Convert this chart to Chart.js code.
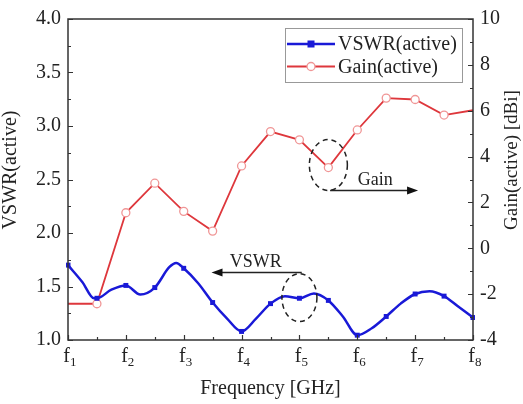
<!DOCTYPE html>
<html>
<head>
<meta charset="utf-8">
<script src="https://cdn.jsdelivr.net/npm/chart.js@4.4.1/dist/chart.umd.min.js"></script>
<style>
  html, body { margin: 0; padding: 0; background: #fff; }
  canvas { display: block; }
</style>
</head>
<body>
<canvas id="c" width="523" height="404"></canvas>
<script>
// ---------- data ----------
const freqLabels = ['1', '2', '3', '4', '5', '6', '7', '8'];   // f1 ... f8 (subscripts)
// VSWR(active): positions along the frequency axis (0 = f1, 7 = f8) and values
const vswrX = [0, 0.25, 0.45, 0.5, 0.75, 1.0, 1.25, 1.5, 1.75, 1.87, 2.0, 2.25, 2.5, 2.75, 3.0, 3.25, 3.5, 3.75, 4.0, 4.25, 4.5, 4.75, 5.0, 5.25, 5.5, 5.75, 6.0, 6.25, 6.5, 6.75, 7.0];
const vswrY = [1.70, 1.54, 1.39, 1.39, 1.47, 1.51, 1.425, 1.49, 1.68, 1.72, 1.67, 1.53, 1.35, 1.20, 1.08, 1.20, 1.34, 1.41, 1.39, 1.435, 1.37, 1.22, 1.045, 1.11, 1.22, 1.34, 1.43, 1.455, 1.41, 1.31, 1.21];
// Gain(active) in dBi at every half step f1, f1.5, f2 ... f8
const gainX = [0, 0.5, 1, 1.5, 2, 2.5, 3, 3.5, 4, 4.5, 5, 5.5, 6, 6.5, 7];
const gainY = [-2.42, -2.42, 1.55, 2.84, 1.61, 0.75, 3.59, 5.09, 4.73, 3.52, 5.16, 6.55, 6.49, 5.81, 6.02];
const vswrTicks = [1.0, 1.5, 2.0, 2.5, 3.0, 3.5, 4.0];
const gainTicks = [-4, -2, 0, 2, 4, 6, 8, 10];

const SERIF = '"Liberation Serif", "Times New Roman", serif';
const TXT = '#222';
const BLUE = 'rgb(25,25,215)';
const RED = 'rgb(222,55,60)';

function isHalf(x) { return Math.abs(x * 2 - Math.round(x * 2)) < 1e-6; }

const decorPlugin = {
  id: 'decor',
  afterDraw(chart) {
    const { ctx, chartArea: a, scales } = chart;
    const x = scales.x, y = scales.y, y2 = scales.y2;
    ctx.save();
    // frame
    ctx.strokeStyle = '#333';
    ctx.lineWidth = 1.5;
    ctx.strokeRect(a.left, a.top, a.right - a.left, a.bottom - a.top);
    ctx.lineWidth = 1.2;
    ctx.beginPath();
    // left ticks (inward)
    for (let v = 1; v <= 4.0001; v += 0.25) {
      const p = Math.round(y.getPixelForValue(v)) + 0.5;
      const len = Math.abs(v * 2 - Math.round(v * 2)) < 1e-6 ? 5 : 3;
      ctx.moveTo(a.left, p); ctx.lineTo(a.left + len, p);
    }
    // right ticks
    for (let g = -4; g <= 10; g += 1) {
      const p = Math.round(y2.getPixelForValue(g)) + 0.5;
      const len = g % 2 === 0 ? 5 : 3;
      ctx.moveTo(a.right, p); ctx.lineTo(a.right - len, p);
    }
    // bottom ticks
    for (let i = 0; i <= 7; i += 0.5) {
      const p = Math.round(x.getPixelForValue(i)) + 0.5;
      const len = Number.isInteger(i) ? 5 : 3;
      ctx.moveTo(p, a.bottom); ctx.lineTo(p, a.bottom - len);
    }
    ctx.stroke();

    // x tick labels f with subscripts
    ctx.fillStyle = TXT;
    ctx.textBaseline = 'alphabetic';
    freqLabels.forEach((s, i) => {
      const px = x.getPixelForValue(i);
      ctx.font = '20px ' + SERIF;
      ctx.textAlign = 'right';
      ctx.fillText('f', px + 2, a.bottom + 22);
      ctx.font = '13px ' + SERIF;
      ctx.textAlign = 'left';
      ctx.fillText(s, px + 2, a.bottom + 26);
    });

    // axis titles
    ctx.font = '20px ' + SERIF;
    ctx.textAlign = 'center';
    ctx.textBaseline = 'middle';
    ctx.fillText('Frequency [GHz]', (a.left + a.right) / 2, 389);
    ctx.save();
    ctx.translate(11, 170);
    ctx.rotate(-Math.PI / 2);
    ctx.fillText('VSWR(active)', 0, 0);
    ctx.restore();
    ctx.save();
    ctx.translate(512, 160);
    ctx.rotate(-Math.PI / 2);
    ctx.font = '19px ' + SERIF;
    ctx.fillText('Gain(active) [dBi]', 0, 0);
    ctx.restore();

    // annotations
    ctx.strokeStyle = '#222';
    ctx.fillStyle = '#111';
    ctx.lineWidth = 1.5;
    ctx.setLineDash([5, 4]);
    // gain ellipse
    ctx.beginPath();
    ctx.ellipse(x.getPixelForValue(4.5), y2.getPixelForValue(3.63), 19, 25.5, 0, 0, Math.PI * 2);
    ctx.stroke();
    // VSWR ellipse
    ctx.beginPath();
    ctx.ellipse(x.getPixelForValue(4.0), y.getPixelForValue(1.396), 17.5, 24, 0, 0, Math.PI * 2);
    ctx.stroke();
    ctx.setLineDash([]);
    function arrow(x1, y1, x2, y2p) {
      const dir = Math.sign(x2 - x1);
      ctx.beginPath();
      ctx.moveTo(x1, y1); ctx.lineTo(x2 - dir * 8, y2p);
      ctx.stroke();
      ctx.beginPath();
      ctx.moveTo(x2, y2p);
      ctx.lineTo(x2 - dir * 11, y2p - 4);
      ctx.lineTo(x2 - dir * 11, y2p + 4);
      ctx.closePath();
      ctx.fill();
    }
    const gy = Math.round(y2.getPixelForValue(2.54)) + 0.5;
    arrow(x.getPixelForValue(4.53), gy, x.getPixelForValue(6.05), gy);
    const vy = Math.round(y.getPixelForValue(1.635)) + 0.5;
    arrow(x.getPixelForValue(4.04), vy, x.getPixelForValue(2.48), vy);
    ctx.fillStyle = TXT;
    ctx.font = '18px ' + SERIF;
    ctx.textAlign = 'center';
    ctx.textBaseline = 'alphabetic';
    ctx.fillText('Gain', x.getPixelForValue(5.31), y2.getPixelForValue(2.75));
    ctx.fillText('VSWR', x.getPixelForValue(3.245), y.getPixelForValue(1.685));

    // legend
    const L = 285, T = 28, R = 462, B = 82;
    ctx.fillStyle = '#fff';
    ctx.fillRect(L, T, R - L, B - T);
    ctx.strokeStyle = '#999';
    ctx.lineWidth = 1;
    ctx.strokeRect(L + 0.5, T + 0.5, R - L, B - T);
    const r1 = 44, r2 = 66.5;
    ctx.lineWidth = 2.5;
    ctx.strokeStyle = BLUE;
    ctx.beginPath(); ctx.moveTo(287, r1); ctx.lineTo(335, r1); ctx.stroke();
    ctx.fillStyle = BLUE;
    ctx.fillRect(311 - 3.5, r1 - 3.5, 7, 7);
    ctx.lineWidth = 1.8;
    ctx.strokeStyle = RED;
    ctx.beginPath(); ctx.moveTo(287, r2); ctx.lineTo(335, r2); ctx.stroke();
    ctx.beginPath(); ctx.arc(311, r2, 4, 0, Math.PI * 2);
    ctx.fillStyle = '#fff'; ctx.fill();
    ctx.strokeStyle = 'rgb(240,150,150)'; ctx.lineWidth = 1.3; ctx.stroke();
    ctx.fillStyle = TXT;
    ctx.font = '20px ' + SERIF;
    ctx.textAlign = 'left';
    ctx.textBaseline = 'middle';
    ctx.fillText('VSWR(active)', 338, r1 + 1);
    ctx.fillText('Gain(active)', 338, r2 + 1);
    ctx.restore();
  }
};

new Chart(document.getElementById('c'), {
  type: 'line',
  data: {
    datasets: [
      {
        label: 'VSWR(active)',
        data: vswrX.map((v, i) => ({ x: v, y: vswrY[i] })),
        yAxisID: 'y',
        borderColor: BLUE,
        backgroundColor: BLUE,
        borderWidth: 2.5,
        cubicInterpolationMode: 'monotone',
        pointStyle: 'rect',
        pointRadius: ctx => (isHalf(vswrX[ctx.dataIndex]) ? 3.5 : 0),
        pointBorderWidth: 0,
        pointBackgroundColor: BLUE,
        clip: 2,
        order: 1
      },
      {
        label: 'Gain(active)',
        data: gainX.map((v, i) => ({ x: v, y: gainY[i] })),
        yAxisID: 'y2',
        borderColor: RED,
        borderWidth: 1.8,
        tension: 0,
        pointStyle: 'circle',
        pointRadius: ctx => (ctx.dataIndex === 0 || ctx.dataIndex === gainX.length - 1 ? 0 : 4),
        pointBackgroundColor: '#fff',
        pointBorderColor: 'rgb(240,150,150)',
        pointBorderWidth: 1.3,
        clip: 2,
        order: 2
      }
    ]
  },
  options: {
    responsive: false,
    animation: false,
    devicePixelRatio: 1,
    layout: { padding: { top: 14, left: 0, right: 0, bottom: 0 } },
    plugins: { legend: { display: false }, tooltip: { enabled: false } },
    scales: {
      x: {
        type: 'linear', min: 0, max: 7, position: 'bottom',
        grid: { display: false, drawTicks: false },
        border: { display: false },
        ticks: { display: false },
        afterFit: s => { s.height = 64; }
      },
      y: {
        type: 'linear', min: 1, max: 4, position: 'left',
        grid: { display: false, drawTicks: false },
        border: { display: false },
        afterBuildTicks: s => { s.ticks = vswrTicks.map(v => ({ value: v })); },
        ticks: {
          padding: 7, color: TXT,
          font: { family: SERIF, size: 20 },
          callback: v => Number(v).toFixed(1)
        },
        afterFit: s => { s.width = 68; }
      },
      y2: {
        type: 'linear', min: -4, max: 10, position: 'right',
        grid: { display: false, drawTicks: false },
        border: { display: false },
        afterBuildTicks: s => { s.ticks = gainTicks.map(v => ({ value: v })); },
        ticks: {
          padding: 7, color: TXT,
          font: { family: SERIF, size: 20 },
          callback: v => String(v)
        },
        afterFit: s => { s.width = 50; }
      }
    }
  },
  plugins: [decorPlugin]
});
</script>
</body>
</html>
